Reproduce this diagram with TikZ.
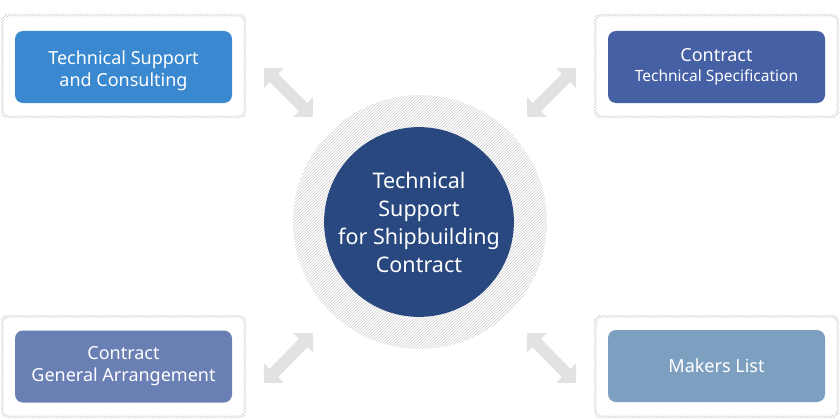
\documentclass[tikz,border=0pt]{standalone}
\usepackage{fontspec}
\setmainfont{Noto Sans}
\usetikzlibrary{patterns,arrows.meta}
\definecolor{cTL}{RGB}{58,136,208}
\definecolor{cTR}{RGB}{69,96,165}
\definecolor{cBL}{RGB}{106,127,180}
\definecolor{cBR}{RGB}{126,160,192}
\definecolor{cC}{RGB}{41,72,128}
\definecolor{cArr}{RGB}{226,226,226}
\tikzset{
  boxnode/.style={rectangle, rounded corners=8pt, minimum width=217pt, minimum height=72pt, inner sep=0pt, text=white, align=center, font=\fontsize{18}{22}\selectfont},
  boxtext/.style={inner sep=0pt, text=white, align=center, font=\fontsize{18}{22}\selectfont},
  hatchframe/.style={pattern=north east lines, pattern color=gray!45, even odd rule, rounded corners=6pt},
  dblarrow/.style={draw=cArr, line width=12pt, {Triangle[length=14pt,width=27pt]}-{Triangle[length=14pt,width=27pt]}}
}
\begin{document}
\begin{tikzpicture}[x=1pt,y=-1pt]
\useasboundingbox (0,0) rectangle (840,420);
% hatched frames
\fill[hatchframe] (1,14) rectangle (246,118) (3.5,16.5) rectangle (243.5,115.5);
\fill[hatchframe] (594,14) rectangle (839,118) (596.5,16.5) rectangle (836.5,115.5);
\fill[hatchframe] (1,315) rectangle (246,418) (3.5,317.5) rectangle (243.5,415.5);
\fill[hatchframe] (594,315) rectangle (839,418) (596.5,317.5) rectangle (836.5,415.5);
% hatched circle
\fill[pattern=north east lines, pattern color=gray!40] (420,222) circle (127);
% boxes
\node[boxnode, fill=cTL] (tlbox) at (123.5,67) {};
\node[boxtext, yshift=-3.5pt] (tl) at (tlbox.center) {Technical Support\\and Consulting};
\node[boxnode, fill=cTR] (tr) at (716.5,67) {Contract\\[-2pt]{\fontsize{15.5}{20}\selectfont Technical Specification}};
\node[boxnode, fill=cBL] (bl) at (123.5,366.5) {Contract\\General Arrangement};
\node[boxnode, fill=cBR] (br) at (716.5,366) {Makers List};
% centre
\node[circle, fill=cC, minimum size=189pt, inner sep=0pt, text=white, align=center, font=\fontsize{21.5}{28}\selectfont] (c) at (419,222) {Technical\\Support\\for Shipbuilding\\Contract};
% arrows
\coordinate (a1s) at (264,68); \coordinate (a1e) at (313,117);
\coordinate (a2s) at (576,68); \coordinate (a2e) at (527,117);
\coordinate (a3s) at (313,333); \coordinate (a3e) at (264,383);
\coordinate (a4s) at (527,333); \coordinate (a4e) at (576,383);
\draw[dblarrow] (a1s) -- (a1e);
\draw[dblarrow] (a2s) -- (a2e);
\draw[dblarrow] (a3s) -- (a3e);
\draw[dblarrow] (a4s) -- (a4e);
\end{tikzpicture}
\end{document}
